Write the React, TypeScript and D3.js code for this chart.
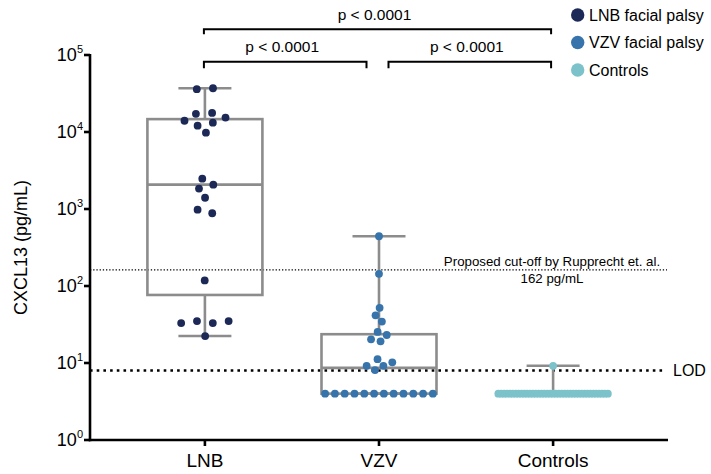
import React, { useMemo } from 'react';
import * as d3 from 'd3';

// categories and legend
const groups = ['LNB', 'VZV', 'Controls'];
const legendLabels = ['LNB facial palsy', 'VZV facial palsy', 'Controls'];
const groupColors = ['#1c2957', '#3674ab', '#7cc2cb'];

// CXCL13 (pg/mL), values below LOD plotted at LOD/2
const lnbValues = [37000, 36000, 17700, 17200, 15400, 14000, 13200, 12100, 9800, 2480, 2070, 1840, 1400, 980, 880, 118, 35, 35, 33, 33, 22.4];
const vzvValues = [443, 144, 52, 41.6, 34.5, 25.3, 23.1, 20.3, 19.1, 11.2, 10.2, 9.2, 9.2, 8.1, 4, 4, 4, 4, 4, 4, 4, 4, 4, 4, 4, 4];
const controlValues = [9.2, 4, 4, 4, 4, 4, 4, 4, 4, 4, 4, 4, 4, 4, 4, 4, 4, 4, 4, 4, 4, 4, 4, 4, 4, 4, 4, 4, 4, 4, 4, 4, 4, 4, 4, 4, 4, 4, 4, 4];

const lod = 8;
const cutoff = 162;
const cutoffLabels = ['Proposed cut-off by Rupprecht et. al.', '162 pg/mL'];

const yTicks = [1, 10, 100, 1000, 10000, 100000];

// significance comparisons
const comparisons = [
  { from: 'LNB', to: 'Controls', label: 'p < 0.0001', level: 0 },
  { from: 'LNB', to: 'VZV', label: 'p < 0.0001', level: 1 },
  { from: 'VZV', to: 'Controls', label: 'p < 0.0001', level: 1 },
];

const FONT = 'Liberation Sans, Arial, Helvetica, sans-serif';
const W = 711;
const H = 474;
const left = 90;
const right = 668;
const top = 55;
const bottom = 440;

const x = d3.scalePoint<string>().domain(groups).range([left, right]).padding(0.66);
const y = d3.scaleLog().domain([1, 100000]).range([bottom, top]);

// GraphPad style quartiles: position (n+1)p
const quartile = (sorted: number[], p: number) => {
  const n = sorted.length;
  const h = (n + 1) * p;
  const lo = Math.floor(h);
  if (lo < 1) return sorted[0];
  if (lo >= n) return sorted[n - 1];
  return sorted[lo - 1] + (h - lo) * (sorted[lo] - sorted[lo - 1]);
};

// beeswarm: y fixed, x pushed apart by collision (ellipse via y scaling)
const swarm = (values: number[], cx: number, spacing: number) => {
  const k = spacing / 8.2;
  const nodes: any[] = values.map((v, i) => {
    const ty = y(v);
    return { v, ty, x: cx + (i % 2 ? -1 : 1) * i * 0.2, y: ty * k, fy: ty * k };
  });
  const sim = d3.forceSimulation(nodes)
    .force('x', d3.forceX(cx).strength(0.04))
    .force('collide', d3.forceCollide(spacing / 2).iterations(4))
    .stop();
  for (let i = 0; i < 300; i++) sim.tick();
  return nodes;
};

const App = () => {
  const series = useMemo(() => {
    const data = [lnbValues, vzvValues, controlValues];
    const spacing = [16.3, 9.8, 2.9];
    return groups.map((g, i) => {
      const sorted = data[i].slice().sort((a, b) => a - b);
      const cx = x(g)!;
      return {
        g,
        cx,
        color: groupColors[i],
        q1: quartile(sorted, 0.25),
        med: quartile(sorted, 0.5),
        q3: quartile(sorted, 0.75),
        min: sorted[0],
        max: sorted[sorted.length - 1],
        points: swarm(data[i], cx, spacing[i]),
      };
    });
  }, []);

  const boxHalf = 57.5;
  const capHalf = 26.5;
  const gray = '#8c8c8c';

  return (
    <svg width={W} height={H} style={{ position: 'absolute', left: 0, top: 0, fontFamily: FONT }}>
      <rect width={W} height={H} fill="#fff" />

      {/* reference lines */}
      <line x1={left} x2={667} y1={y(cutoff)} y2={y(cutoff)} stroke="#000" strokeWidth={1.3} strokeDasharray="1.3,1.9" />
      <line x1={left} x2={665} y1={y(lod)} y2={y(lod)} stroke="#000" strokeWidth={2.6} strokeDasharray="2.6,4.1" />
      {cutoffLabels.map((t, i) => (
        <text key={t} x={552} y={y(cutoff) - 3.7 + i * 17.3} textAnchor="middle" fontSize={13.3}>{t}</text>
      ))}
      <text x={673} y={y(lod) + 5.8} fontSize={16}>LOD</text>

      {/* boxes and whiskers */}
      {series.map(s => (
        <g key={s.g} stroke={gray} strokeWidth={2.6} fill="none">
          <line x1={s.cx} x2={s.cx} y1={y(s.q3)} y2={y(s.max)} />
          <line x1={s.cx} x2={s.cx} y1={y(s.q1)} y2={y(s.min)} />
          <line x1={s.cx - capHalf} x2={s.cx + capHalf} y1={y(s.max)} y2={y(s.max)} />
          <line x1={s.cx - capHalf} x2={s.cx + capHalf} y1={y(s.min)} y2={y(s.min)} />
          <rect x={s.cx - boxHalf} width={boxHalf * 2} y={y(s.q3)} height={Math.max(0, y(s.q1) - y(s.q3))} />
          <line x1={s.cx - boxHalf} x2={s.cx + boxHalf} y1={y(s.med)} y2={y(s.med)} />
        </g>
      ))}

      {/* points */}
      {series.map(s => (
        <g key={s.g + 'pts'} fill={s.color}>
          {s.points.map((p: any, i: number) => (
            <circle key={i} cx={p.x} cy={p.ty} r={3.9} />
          ))}
        </g>
      ))}

      {/* axes */}
      <line x1={left} x2={left} y1={top - 1} y2={bottom + 1.3} stroke="#000" strokeWidth={2.6} />
      <line x1={left - 1.3} x2={right} y1={bottom} y2={bottom} stroke="#000" strokeWidth={2.6} />
      {yTicks.map(t => (
        <g key={t}>
          <line x1={left - 6} x2={left} y1={y(t)} y2={y(t)} stroke="#000" strokeWidth={2.6} />
          <text x={83} y={y(t) + 6.3} textAnchor="end" fontSize={18}>
            10<tspan fontSize={11} dy={-8}>{Math.round(Math.log10(t))}</tspan>
          </text>
        </g>
      ))}
      {groups.map(g => (
        <g key={g}>
          <line x1={x(g)} x2={x(g)} y1={bottom} y2={bottom + 6} stroke="#000" strokeWidth={2.6} />
          <text x={x(g)} y={466.5} textAnchor="middle" fontSize={19}>{g}</text>
        </g>
      ))}
      <text transform={`translate(27,${(top + bottom) / 2}) rotate(-90)`} textAnchor="middle" fontSize={18}>CXCL13 (pg/mL)</text>

      {/* significance brackets */}
      {comparisons.map((c, i) => {
        const by = c.level === 0 ? 29.3 : 61.7;
        const tick = c.level === 0 ? 5 : 6.5;
        const x1 = c.from === 'VZV' ? x(c.from)! + 9.5 : x(c.from)! - 1;
        const x2 = c.to === 'VZV' ? x(c.to)! - 12.5 : x(c.to)! - 2;
        return (
          <g key={i}>
            <path d={`M${x1},${by + tick}V${by}H${x2}V${by + tick}`} fill="none" stroke="#000" strokeWidth={2} />
            <text x={(x1 + x2) / 2 - 3} y={by - 9.7} textAnchor="middle" fontSize={15.5}>{c.label}</text>
          </g>
        );
      })}

      {/* legend */}
      {legendLabels.map((l, i) => (
        <g key={l}>
          <circle cx={577.7} cy={15 + i * 27.5} r={6.7} fill={groupColors[i]} />
          <text x={589} y={15 + i * 27.5 + 5.8} fontSize={16}>{l}</text>
        </g>
      ))}
    </svg>
  );
};

export default App;
